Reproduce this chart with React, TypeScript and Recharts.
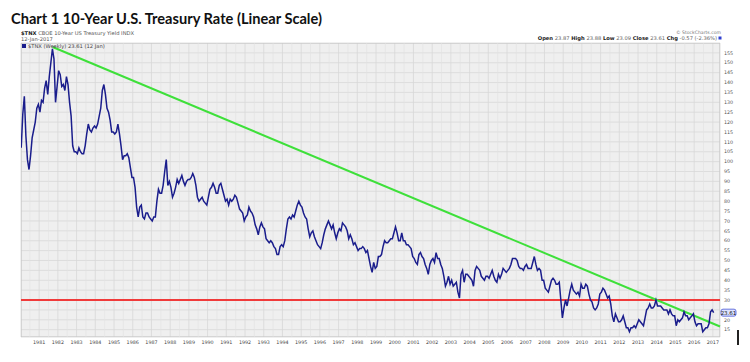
import React from 'react';
import { LineChart, Line, XAxis, YAxis, CartesianGrid, ReferenceLine, ReferenceArea } from 'recharts';

// $TNX (yield x10), one reading per month, Jan 1980 .. Jan 2017
const tnx1980s = [
  107, 124, 133, 113, 101, 96, 103, 112, 116, 120, 127, 129,
  125, 131, 130, 137, 141, 134, 143, 150, 157, 152, 130, 138,
  146, 144, 138, 139, 136, 143, 139, 130, 123, 108, 105, 105,
  104, 107, 105, 104, 104, 108, 114, 119, 116, 115, 117, 118,
  117, 119, 123, 127, 136, 139, 134, 127, 125, 121, 115, 115,
  114, 115, 119, 114, 108, 101, 103, 103, 104, 102, 97, 92,
  92, 87, 77, 72, 77, 78, 72, 71, 74, 74, 72, 71,
  70, 72, 72, 80, 86, 84, 84, 88, 95, 101, 88, 90,
  87, 82, 84, 87, 91, 89, 91, 93, 90, 88, 90, 91,
  91, 92, 94, 92, 88, 82, 80, 81, 82, 80, 79, 78,
];

const tnx1990s = [
  82, 86, 87, 89, 87, 84, 84, 88, 89, 86, 83, 80,
  81, 78, 81, 80, 81, 83, 82, 79, 76, 75, 74, 70,
  72, 73, 77, 75, 74, 72, 68, 66, 63, 67, 69, 67,
  66, 61, 60, 59, 60, 59, 57, 56, 53, 53, 57, 58,
  57, 60, 66, 71, 72, 71, 73, 72, 75, 78, 80, 78,
  77, 74, 72, 71, 66, 62, 64, 65, 62, 60, 58, 57,
  56, 59, 63, 66, 68, 70, 68, 66, 68, 64, 61, 64,
  66, 65, 69, 68, 67, 65, 61, 63, 61, 58, 59, 57,
  55, 56, 56, 57, 56, 54, 55, 51, 47, 44, 49, 46,
  47, 52, 52, 53, 57, 60, 59, 59, 60, 61, 61, 64,
];

const tnx2000s = [
  67, 64, 60, 60, 64, 60, 60, 58, 58, 57, 56, 52,
  51, 49, 48, 53, 54, 52, 51, 48, 46, 43, 48, 50,
  51, 49, 54, 51, 51, 48, 46, 42, 37, 39, 42, 38,
  40, 37, 38, 39, 34, 31, 43, 45, 39, 43, 43, 42,
  41, 40, 37, 45, 47, 46, 45, 42, 41, 40, 42, 42,
  41, 43, 45, 42, 40, 39, 43, 41, 43, 46, 45, 44,
  45, 46, 48, 51, 51, 51, 50, 47, 46, 46, 45, 47,
  48, 46, 46, 46, 49, 52, 48, 45, 46, 45, 40, 40,
  36, 35, 34, 37, 40, 41, 40, 38, 38, 39, 30, 21,
  26, 30, 27, 31, 35, 38, 35, 34, 33, 34, 32, 38,
];

const tnx2010s = [
  36, 36, 38, 37, 33, 30, 29, 26, 25, 26, 28, 33,
  34, 36, 35, 33, 31, 32, 28, 22, 19, 23, 21, 19,
  19, 20, 22, 19, 16, 16, 14, 16, 16, 17, 16, 18,
  20, 19, 18, 17, 21, 25, 26, 28, 26, 26, 27, 30,
  27, 27, 27, 26, 25, 25, 25, 23, 25, 23, 22, 22,
  17, 20, 19, 20, 21, 24, 22, 22, 20, 21, 22, 23,
  19, 17, 18, 18, 18, 14, 15, 16, 16, 18, 24, 25,
  23.61,
];

const yearTicks = [
  1981, 1982, 1983, 1984, 1985, 1986, 1987, 1988, 1989, 1990, 1991, 1992, 1993,
  1994, 1995, 1996, 1997, 1998, 1999, 2000, 2001, 2002, 2003, 2004, 2005, 2006,
  2007, 2008, 2009, 2010, 2011, 2012, 2013, 2014, 2015, 2016, 2017,
];
const yTicks = [
  15, 20, 25, 30, 35, 40, 45, 50, 55, 60, 65, 70, 75, 80, 85, 90, 95, 100, 105,
  110, 115, 120, 125, 130, 135, 140, 145, 150, 155,
];
// the last-close box covers this tick's label on the right axis
const hiddenTick = 25;

const supportLevel = 30;
const trendStart = { x: 1981.72, y: 158 };
const trendEnd = { x: 2017.38, y: 16.6 };
const lastClose = 23.61;

const monthly = [...tnx1980s, ...tnx1990s, ...tnx2000s, ...tnx2010s];
const data = monthly.map((v, i) => ({ t: 1980 + (i + 0.5) / 12, tnx: v }));
const halfYears = [1980, ...yearTicks].map((y) => y + 0.5);

const xDomain: [number, number] = [1980.03, 2017.38];
const yDomain: [number, number] = [11.3, 160];

const LastLabel = ({ viewBox }: any) => {
  if (!viewBox) return null;
  const { x, y, width } = viewBox;
  const lx = x + width + 1;
  return (
    <g>
      <rect x={lx} y={y - 3.5} width={15} height={7} rx={2} fill="#dde2ff" stroke="#2f3fd0" strokeWidth={0.7} />
      <text x={lx + 7.5} y={y + 2} fontSize={5.5} textAnchor="middle" fill="#111" fontFamily="DejaVu Sans">
        {lastClose.toFixed(2)}
      </text>
    </g>
  );
};

const small = { fontFamily: 'DejaVu Sans, sans-serif', fontSize: 5.2 };

export default function App() {
  return (
    <div style={{ position: 'absolute', left: 0, top: 0, width: 750, height: 362, background: '#fff' }}>
      <LineChart width={750} height={362} data={data} margin={{ top: 43, right: 0, left: 21, bottom: 5 }}>
        <CartesianGrid fill="#efefef" stroke="#d8d8d8" strokeWidth={0.8} />
        {halfYears.map((h) => (
          <ReferenceLine key={h} x={h} stroke="#e3e3e3" strokeWidth={0.6} ifOverflow="discard" />
        ))}
        <ReferenceArea x1={xDomain[0]} x2={xDomain[1]} y1={yDomain[0]} y2={yDomain[1]} fill="none" stroke="#c4c4c4" strokeWidth={1} ifOverflow="hidden" />
        <XAxis
          dataKey="t"
          type="number"
          domain={xDomain}
          ticks={yearTicks}
          allowDataOverflow
          tickLine={false}
          axisLine={false}
          tickSize={0}
          tickMargin={4}
          height={20}
          interval={0}
          tick={{ fontSize: 4.8, fill: '#444', fontFamily: 'DejaVu Sans' }}
        />
        <YAxis
          orientation="right"
          type="number"
          domain={yDomain}
          ticks={yTicks}
          allowDataOverflow
          tickLine={false}
          axisLine={false}
          tickSize={0}
          tickMargin={4}
          width={30}
          interval={0}
          tickFormatter={(v: number) => (v === hiddenTick ? '' : String(v))}
          tick={{ fontSize: 4.8, fill: '#555', fontFamily: 'DejaVu Sans' }}
        />
        <ReferenceLine y={supportLevel} stroke="#f03a3a" strokeWidth={2} />
        <ReferenceLine segment={[trendStart, trendEnd]} stroke="#3ee03a" strokeWidth={2} ifOverflow="visible" />
        <Line
          type="linear"
          dataKey="tnx"
          stroke="#1a1d8c"
          strokeWidth={1.5}
          dot={false}
          isAnimationActive={false}
        />
        <ReferenceLine y={lastClose} stroke="none" label={<LastLabel />} />
      </LineChart>
      <svg width={750} height={362} style={{ position: 'absolute', left: 0, top: 0, pointerEvents: 'none' }}>
        <text x={11} y={24} fontFamily="Lato, sans-serif" fontWeight={700} fontSize={14.5} textLength={311} lengthAdjust="spacingAndGlyphs" fill="#111">
          Chart 1 10-Year U.S. Treasury Rate (Linear Scale)
        </text>
        <text x={21} y={35} {...small} fill="#222">
          <tspan fontWeight={700}>$TNX</tspan>
          <tspan fill="#555"> CBOE 10-Year US Treasury Yield INDX</tspan>
        </text>
        <text x={21} y={40.5} {...small} fill="#555">12-Jan-2017</text>
        <rect x={22} y={44} width={4} height={4} fill="#1a1d8c" />
        <text x={28} y={48} {...small} fill="#444">$TNX (Weekly) 23.61 (12 Jan)</text>
        <text x={721} y={34} {...small} fontSize={4.6} fill="#777" textAnchor="end">© StockCharts.com</text>
        <text x={717} y={40} {...small} fill="#666" textAnchor="end">
          <tspan fontWeight={700} fill="#222">Open</tspan> 23.87 <tspan fontWeight={700} fill="#222">High</tspan> 23.88{' '}
          <tspan fontWeight={700} fill="#222">Low</tspan> 23.09 <tspan fontWeight={700} fill="#222">Close</tspan> 23.61{' '}
          <tspan fontWeight={700} fill="#222">Chg</tspan> -0.57 (-2.36%)
        </text>
        <rect x={718.5} y={36.5} width={3} height={3} fill="#2f3fd0" />
      </svg>
      <div style={{ position: 'absolute', left: 737, top: 330, width: 2, height: 15, background: '#222' }} />
    </div>
  );
}
